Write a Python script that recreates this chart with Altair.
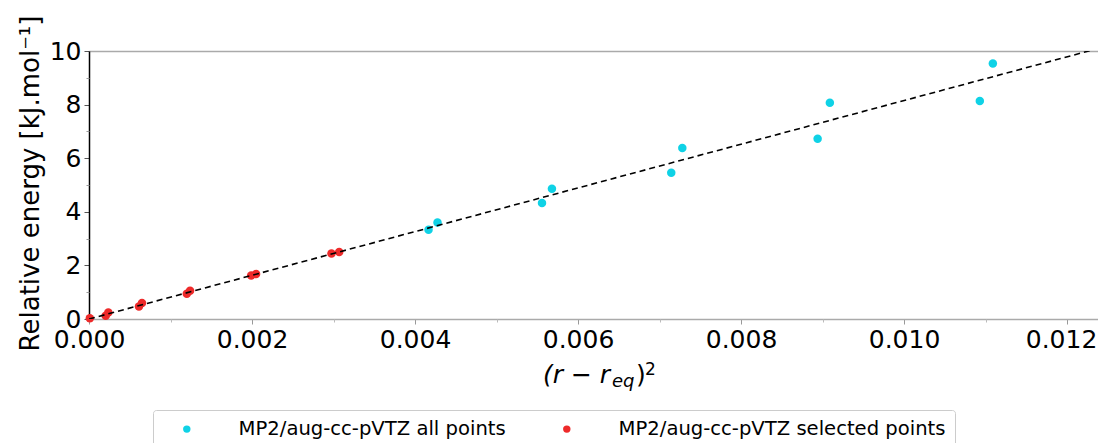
import altair as alt
import pandas as pd

# ---- data ----
all_x = [0.004166, 0.004276, 0.005558, 0.005680, 0.007144, 0.007280, 0.008940, 0.009090, 0.010930, 0.011090]
all_y = [3.33, 3.60, 4.33, 4.86, 5.46, 6.38, 6.73, 8.07, 8.13, 9.53]
sel_x = [0.00001, 0.000205, 0.000237, 0.000613, 0.000650, 0.001200, 0.001240, 0.001990, 0.002050, 0.002975, 0.003070]
sel_y = [0.03, 0.12, 0.24, 0.47, 0.60, 0.94, 1.05, 1.62, 1.68, 2.44, 2.50]
fit_x = [0.0, 0.0125]
fit_y = [0.0, 10.19]

series_names = ["MP2/aug-cc-pVTZ all points", "MP2/aug-cc-pVTZ selected points"]
series_colors = ["#0fd2e6", "#ee2a2a"]
x_major = [0.0, 0.002, 0.004, 0.006, 0.008, 0.010, 0.012]
x_minor = [0.001, 0.003, 0.005, 0.007, 0.009, 0.011]
y_major = [0, 2, 4, 6, 8, 10]
y_minor = [1, 3, 5, 7, 9]

FONT = "DejaVu Sans"

pts = pd.DataFrame(
    {"x": all_x + sel_x, "y": all_y + sel_y,
     "series": [series_names[0]] * len(all_x) + [series_names[1]] * len(sel_x)}
)
fit = pd.DataFrame({"x": fit_x, "y": fit_y})

xscale = alt.Scale(domain=[0, 0.01238], nice=False, zero=False)
yscale = alt.Scale(domain=[0, 10], nice=False)

color = alt.Color(
    "series:N",
    scale=alt.Scale(domain=series_names, range=series_colors),
    legend=alt.Legend(
        title=None, orient="none", legendX=64, legendY=359, direction="horizontal",
        symbolType="circle", symbolSize=55, symbolStrokeWidth=0,
        labelFont=FONT, labelFontSize=19.6, labelColor="black", labelLimit=1000,
        labelOffset=42, symbolOffset=15, columnPadding=36,
        padding=9, strokeColor="#cccccc", fillColor="white", cornerRadius=3,
    ),
)

points = alt.Chart(pts).mark_circle(size=72, opacity=1).encode(
    x=alt.X("x:Q", scale=xscale, axis=alt.Axis(
        orient="bottom", values=x_major, format=".3f", title=None,
        labelFont=FONT, labelFontSize=25, labelColor="black", labelPadding=3,
        labelOffset=alt.condition("datum.value > 0.0115", alt.value(-6), alt.value(0)),
        tickSize=5, tickColor="#999999", domainColor="#aaaaaa", domainWidth=1.5,
        grid=False, labelFlush=False, labelOverlap=False)),
    y=alt.Y("y:Q", scale=yscale, axis=alt.Axis(
        orient="left", values=y_major, format="d",
        title="Relative energy [kJ.mol⁻¹]", titleFont=FONT, titleFontSize=26,
        titleFontWeight="normal", titleColor="black", titleAngle=270,
        titleX=-51, titleY=132, titleAlign="center", titleBaseline="alphabetic",
        titleLimit=1000,
        labelFont=FONT, labelFontSize=25, labelColor="black", labelPadding=3,
        tickSize=5, tickColor="#555555", domainColor="black", domainWidth=1.5,
        grid=False, labelFlush=False, labelOverlap=False)),
    color=color,
    order=alt.Order("series:N"),
)

minor = alt.Chart(fit).mark_line(
    strokeDash=[6, 4], color="black", strokeWidth=1.6, clip=True
).encode(
    x=alt.X("x:Q", scale=xscale, axis=alt.Axis(
        orient="bottom", values=x_minor, labels=False, title=None, domain=False,
        tickSize=3, tickColor="#bbbbbb", grid=False)),
    y=alt.Y("y:Q", scale=yscale, axis=alt.Axis(
        orient="left", values=y_minor, labels=False, title=None, domain=False,
        tickSize=3, tickColor="#999999", grid=False)),
)

topspine = alt.Chart(fit).mark_line(opacity=0).encode(
    x=alt.X("x:Q", scale=xscale, axis=alt.Axis(
        orient="top", labels=False, ticks=False, title=None,
        domainColor="#aaaaaa", domainWidth=1.5, grid=False)),
    y=alt.Y("y:Q", scale=yscale, axis=None),
)

label_df = pd.DataFrame({"t": [0]})
t1 = alt.Chart(label_df).mark_text(
    text="(r − r", font=FONT, fontSize=25, fontStyle="italic", align="left",
    baseline="alphabetic", color="black"
).encode(x=alt.value(454), y=alt.value(332))
t2 = alt.Chart(label_df).mark_text(
    text="eq", font=FONT, fontSize=18, fontStyle="italic", align="left",
    baseline="alphabetic", color="black"
).encode(x=alt.value(523), y=alt.value(336))
t3 = alt.Chart(label_df).mark_text(
    text=")", font=FONT, fontSize=25, align="left",
    baseline="alphabetic", color="black"
).encode(x=alt.value(547), y=alt.value(332))
t4 = alt.Chart(label_df).mark_text(
    text="2", font=FONT, fontSize=17, align="left",
    baseline="alphabetic", color="black"
).encode(x=alt.value(556), y=alt.value(324))

chart = alt.layer(points, minor, topspine, t1, t2, t3, t4).resolve_axis(
    x="independent", y="independent"
).properties(
    width=1009, height=268,
    autosize=alt.AutoSizeParams(type="none"),
    padding={"left": 81, "top": 43, "right": 0, "bottom": 124},
).configure_view(stroke=None).configure(font=FONT)

chart.save("out.html", embed_options={"renderer": "svg", "actions": False})
